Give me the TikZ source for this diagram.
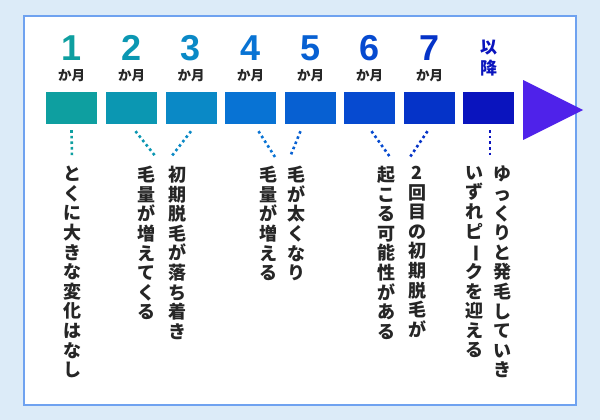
\documentclass[tikz,border=0pt]{standalone}
\usepackage{fontspec}
\newfontfamily\jp{Noto Sans CJK JP}
\setmainfont{Liberation Sans}
\usetikzlibrary{calc,shapes.geometric}
\definecolor{c1}{HTML}{0E9FA0}
\definecolor{c2}{HTML}{0B97B2}
\definecolor{c3}{HTML}{0A89C6}
\definecolor{c4}{HTML}{0873D4}
\definecolor{c5}{HTML}{0760D2}
\definecolor{c6}{HTML}{064AD0}
\definecolor{c7}{HTML}{0533C8}
\definecolor{c8}{HTML}{0A14BE}
\definecolor{tri}{HTML}{4F22EA}
\definecolor{bgc}{HTML}{DCEBF8}
\definecolor{frame}{HTML}{6FA2F0}
\definecolor{txt}{HTML}{262626}
\newcommand{\vbarjp}{\rotatebox[origin=c]{-90}{ー}}
\tikzset{
 mbox/.style={minimum width=51pt,minimum height=32pt,inner sep=0},
 num/.style={font=\fontsize{36}{36}\selectfont\bfseries},
 mon/.style={font=\jp\bfseries\fontsize{13.5}{13.5}\selectfont,text=txt},
 vcol/.style={anchor=north,align=center,inner sep=0,text=txt,font=\jp\bfseries\fontsize{18}{19.6}\selectfont},
 dots/.style={line width=2.6pt,dash pattern=on 2.6pt off 3pt}
}
\begin{document}
\begin{tikzpicture}[x=1pt,y=-1pt]
\useasboundingbox (0,0) rectangle (600,420);
\fill[bgc] (0,0) rectangle (600,420);
\fill[white,draw=frame,line width=2pt] (24,16) rectangle (576,405);
\foreach \i/\x in {1/71.5,2/131.5,3/191,4/250.5,5/310.5,6/369.5,7/429.5,8/488.5}{
  \node[mbox,fill=c\i] (b\i) at (\x,108) {};
}
\foreach \i in {1,...,7}{
  \node[num,text=c\i] (n\i) at ($(b\i)+(0,-60)$) {\i};
  \node[mon] (m\i) at ($(b\i)+(0,-32)$) {か月};
}
\node[mon,text=c8,align=center,font=\jp\bfseries\fontsize{17}{21}\selectfont] (m8) at ($(b8)+(0,-50)$) {以\\降};
\node[fill=tri,isosceles triangle,isosceles triangle apex angle=53,minimum height=60pt,inner sep=0,anchor=west] (arr) at (523,110) {};
% texts
\node[vcol] (t1) at (72,166) {と\\く\\に\\大\\き\\な\\変\\化\\は\\な\\し};
\node[vcol] (t2) at (146,166) {毛\\量\\が\\増\\え\\て\\く\\る};
\node[vcol] (t3) at (177,166) {初\\期\\脱\\毛\\が\\落\\ち\\着\\き};
\node[vcol] (t4) at (268,166) {毛\\量\\が\\増\\え\\る};
\node[vcol] (t5) at (296,166) {毛\\が\\太\\く\\な\\り};
\node[vcol] (t6) at (386,166) {起\\こ\\る\\可\\能\\性\\が\\あ\\る};
\node[vcol] (t7) at (417,166) {2\\回\\目\\の\\初\\期\\脱\\毛\\が};
\node[vcol] (t8) at (474,166) {い\\ず\\れ\\ピ\\\vbarjp\\ク\\を\\迎\\え\\る};
\node[vcol] (t9) at (502,166) {ゆ\\っ\\く\\り\\と\\発\\毛\\し\\て\\い\\き};
% connectors
\coordinate (e1) at (72,158);
\coordinate (e2) at (156,157);
\coordinate (e3) at (171,157);
\coordinate (e4) at (275,157);
\coordinate (e5) at (290,157);
\coordinate (e6) at (390,157);
\coordinate (e7) at (410,157);
\coordinate (e8) at (490,158);
\draw[dots,c1] ($(b1.south)+(0,6)$) -- (e1);
\draw[dots,c2] ($(b2.south)+(4,7)$) -- (e2);
\draw[dots,c3] ($(b3.south)+(0,7)$) -- (e3);
\draw[dots,c4] ($(b4.south)+(8,7)$) -- (e4);
\draw[dots,c5] ($(b5.south)+(-10,7)$) -- (e5);
\draw[dots,c6] ($(b6.south)+(2,7)$) -- (e6);
\draw[dots,c7] ($(b7.south)+(-2,7)$) -- (e7);
\draw[dots,c8] ($(b8.south)+(1.5,6)$) -- (e8);
\end{tikzpicture}
\end{document}
